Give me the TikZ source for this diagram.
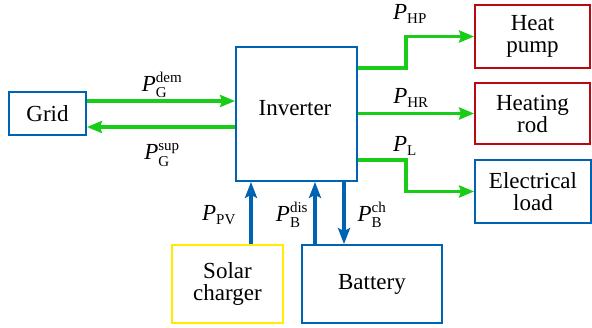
\documentclass[tikz,border=0pt]{standalone}
\usepackage{fontspec}
\setmainfont{LiberationSerif}[Extension=.ttf, UprightFont=*-Regular, ItalicFont=*-Italic, BoldFont=*-Bold, BoldItalicFont=*-BoldItalic]
\usetikzlibrary{arrows.meta,calc}
\definecolor{cblue}{RGB}{0,99,177}
\definecolor{cgreen}{RGB}{24,204,24}
\definecolor{cred}{RGB}{185,10,20}
\definecolor{cyellow}{RGB}{255,236,0}
\newcommand{\sfnt}{\fontsize{15}{15}\selectfont}
\newcommand{\Plab}[2]{$\hbox{\textit{P}}^{\hbox{\sfnt #2}}_{\hbox{\sfnt #1}}$}
\newcommand{\Psub}[1]{$\hbox{\textit{P}}_{\hbox{\sfnt #1}}$}
\tikzset{
  box/.style={draw, line width=1.8pt, fill=white, align=center, inner sep=0pt,
    font=\fontsize{23}{22}\selectfont},
  bluebox/.style={box, draw=cblue},
  redbox/.style={box, draw=cred},
  yellowbox/.style={box, draw=cyellow},
  garrow/.style={draw=cgreen, line width=3.8pt, -{Stealth[length=15pt,width=12pt,inset=2pt]}},
  barrow/.style={draw=cblue, line width=3.8pt, -{Stealth[length=16pt,width=12pt,inset=3pt]}},
  lab/.style={inner sep=0pt, font=\fontsize{23}{23}\selectfont}
}
\begin{document}
\begin{tikzpicture}[x=1pt,y=-1pt]
\useasboundingbox (0,0) rectangle (592,327);
\node[bluebox, minimum width=77pt, minimum height=43pt] (grid) at (47.5,113.5) {Grid};
\node[bluebox, minimum width=121pt, minimum height=134pt] (inv) at (296.5,114) {};
\node[lab] (invlab) at (295,108) {Inverter};
\node[redbox, minimum width=115pt, minimum height=63pt] (hp) at (532.5,36.5) {Heat\\pump};
\node[redbox, minimum width=115pt, minimum height=61pt] (hr) at (532.5,113.5) {Heating\\rod};
\node[bluebox, minimum width=116pt, minimum height=63pt] (el) at (533,191.5) {Electrical\\load};
\node[yellowbox, minimum width=111pt, minimum height=78pt] (sol) at (227.5,284) {Solar\\charger};
\node[bluebox, minimum width=140pt, minimum height=78pt] (bat) at (372,284) {Battery};

% grid arrows
\draw[garrow] (grid.east |- 0,101) -- (inv.west |- 0,101);
\draw[garrow] (inv.west |- 0,127) -- (grid.east |- 0,127);
% loads
\draw[garrow] (inv.east |- 0,68) -| (406,36.5) -- (hp.west);
\draw[garrow] (inv.east |- hr.west) -- (hr.west);
\draw[garrow] (inv.east |- 0,160) -| (406,191.5) -- (el.west);
% bottom
\draw[barrow] (sol.north -| 251,0) -- (inv.south -| 251,0);
\draw[barrow] (bat.north -| 315,0) -- (inv.south -| 315,0);
\draw[barrow] (inv.south -| 344,0) -- (bat.north -| 344,0);

% labels
\node[lab] (ldem) at (162,85) {\Plab{G}{dem}};
\node[lab] (lsup) at (162,155) {\Plab{G}{sup}};
\node[lab] (lhp) at (410,14) {\Psub{HP}};
\node[lab] (lhr) at (411,98) {\Psub{HR}};
\node[lab] (ll) at (405,146) {\Psub{L}};
\node[lab] (lpv) at (219,215) {\Psub{PV}};
\node[lab] (ldis) at (292,215) {\Plab{B}{dis}};
\node[lab] (lch) at (372,215) {\Plab{B}{ch}};
\end{tikzpicture}
\end{document}
